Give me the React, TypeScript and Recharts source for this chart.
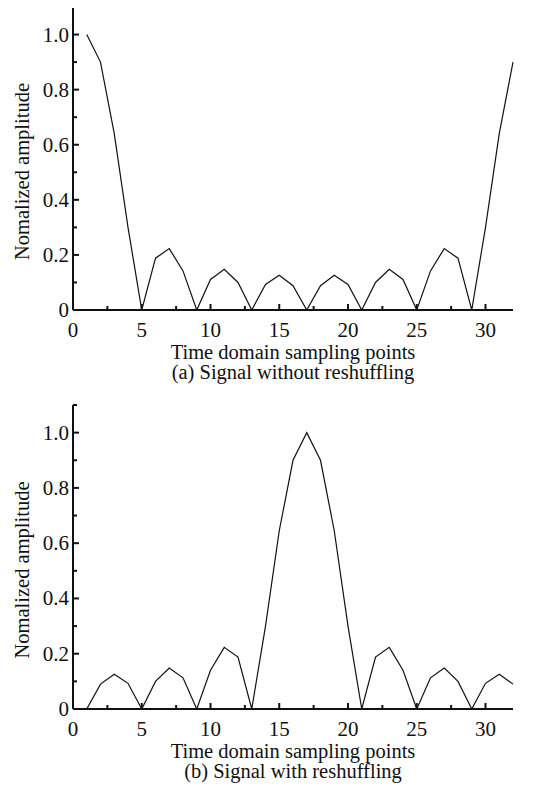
import React from 'react';
import { LineChart, Line, XAxis, YAxis } from 'recharts';

// ---------- data ----------
const samplePoints = [1, 2, 3, 4, 5, 6, 7, 8, 9, 10, 11, 12, 13, 14, 15, 16, 17, 18, 19, 20, 21, 22, 23, 24, 25, 26, 27, 28, 29, 30, 31, 32];
const amplitudeWithout = [1.0, 0.9, 0.64, 0.3, 0, 0.188, 0.223, 0.142, 0, 0.111, 0.148, 0.1, 0, 0.093, 0.126, 0.088, 0, 0.088, 0.126, 0.093, 0, 0.1, 0.148, 0.111, 0, 0.142, 0.223, 0.188, 0, 0.3, 0.64, 0.9];
const amplitudeWith = [0, 0.09, 0.126, 0.093, 0, 0.1, 0.148, 0.113, 0, 0.14, 0.223, 0.188, 0, 0.3, 0.645, 0.9, 1.0, 0.9, 0.645, 0.3, 0, 0.188, 0.223, 0.14, 0, 0.113, 0.148, 0.1, 0, 0.093, 0.126, 0.09];
const xTicks = [0, 2.5, 5, 7.5, 10, 12.5, 15, 17.5, 20, 22.5, 25, 27.5, 30];
const xLabelled = [0, 5, 10, 15, 20, 25, 30];
const yTicks = [0, 0.1, 0.2, 0.3, 0.4, 0.5, 0.6, 0.7, 0.8, 0.9, 1.0, 1.1];
const yLabelled = [0, 0.2, 0.4, 0.6, 0.8, 1.0];
const xAxisTitle = 'Time domain sampling points';
const yAxisTitle = 'Nomalized amplitude';
const captions = ['(a) Signal without reshuffling', '(b) Signal with reshuffling'];

const FONT = '"Liberation Serif", "Times New Roman", Times, serif';
const INK = '#111';
const tickStyle = { fontFamily: FONT, fontSize: 21 };
const titleStyle = { fontFamily: FONT, fontSize: 20.5 };

const XTick = (props: any) => {
  const { x, y, payload } = props;
  const v = payload.value;
  const major = xLabelled.some((t) => Math.abs(t - v) < 1e-6);
  return (
    <g>
      <line x1={x} x2={x} y1={y} y2={y - (major ? 6 : 4)} stroke={INK} strokeWidth={2} />
      {major && (
        <text x={x} y={y + 27} textAnchor="middle" style={tickStyle} fill={INK}>
          {String(v)}
        </text>
      )}
    </g>
  );
};

const YTick = (props: any) => {
  const { x, y, payload } = props;
  const v = payload.value;
  const major = yLabelled.some((t) => Math.abs(t - v) < 1e-6);
  return (
    <g>
      <line x1={x} x2={x + (major ? 6 : 4)} y1={y} y2={y} stroke={INK} strokeWidth={2} />
      {major && (
        <text x={x - 4} y={y + 7} textAnchor="end" style={tickStyle} fill={INK}>
          {v === 0 ? '0' : v.toFixed(1)}
        </text>
      )}
    </g>
  );
};

const XCaption = (props: any) => {
  const vb = props.viewBox || { x: 73, y: 310, width: 440, height: 83 };
  const cx = vb.x + vb.width / 2;
  return (
    <g>
      <text x={cx} y={vb.y + 48.5} textAnchor="middle" style={titleStyle} fill={INK}>
        {xAxisTitle}
      </text>
      <text x={cx} y={vb.y + 69} textAnchor="middle" style={titleStyle} fill={INK}>
        {props.caption}
      </text>
    </g>
  );
};

const YCaption = (props: any) => {
  const vb = props.viewBox || { x: 0, y: 7, width: 73, height: 303 };
  const cy = vb.y + vb.height / 2 + 13;
  const bx = 29;
  return (
    <text
      x={bx}
      y={cy}
      textAnchor="middle"
      style={titleStyle}
      fill={INK}
      transform={`rotate(-90, ${bx}, ${cy})`}
    >
      {yAxisTitle}
    </text>
  );
};

const Panel = ({ values, caption, top, xHeight }: { values: number[]; caption: string; top: number; xHeight: number }) => {
  const data = samplePoints.map((t, i) => ({ t, amp: values[i] }));
  return (
    <LineChart width={543} height={393} data={data} margin={{ top, right: 30, bottom: 0, left: 0 }}>
      <XAxis
        dataKey="t"
        type="number"
        domain={[0, 32]}
        ticks={xTicks}
        interval={0}
        allowDecimals
        height={xHeight}
        tickSize={0}
        tickMargin={0}
        tickLine={false}
        axisLine={{ stroke: INK, strokeWidth: 2 }}
        tick={<XTick />}
        label={<XCaption caption={caption} />}
      />
      <YAxis
        type="number"
        domain={[0, 1.1]}
        ticks={yTicks}
        interval={0}
        allowDataOverflow
        width={73}
        tickSize={0}
        tickMargin={0}
        tickLine={false}
        axisLine={{ stroke: INK, strokeWidth: 2 }}
        tick={<YTick />}
        label={<YCaption />}
      />
      <Line
        type="linear"
        dataKey="amp"
        stroke={INK}
        strokeWidth={1.2}
        dot={false}
        activeDot={false}
        isAnimationActive={false}
      />
    </LineChart>
  );
};

export default function App() {
  return (
    <div style={{ marginLeft: -8, marginTop: -8, width: 543, height: 786, background: '#fff' }}>
      <Panel values={amplitudeWithout} caption={captions[0]} top={7} xHeight={83} />
      <Panel values={amplitudeWith} caption={captions[1]} top={12} xHeight={77} />
    </div>
  );
}
